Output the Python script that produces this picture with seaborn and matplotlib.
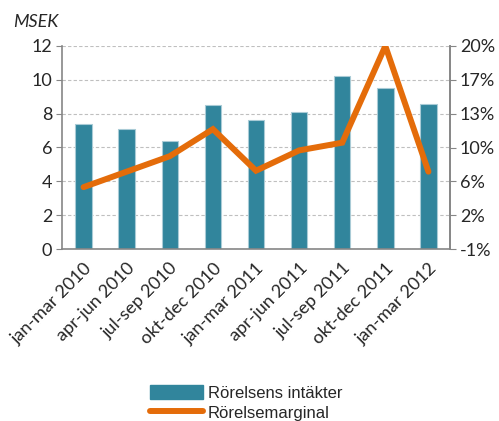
import matplotlib
matplotlib.use("Agg")
import matplotlib.pyplot as plt
from matplotlib.patches import Patch
from matplotlib.lines import Line2D
import seaborn as sns
import pandas as pd

quarters = ["jan-mar 2010", "apr-jun 2010", "jul-sep 2010", "okt-dec 2010",
            "jan-mar 2011", "apr-jun 2011", "jul-sep 2011", "okt-dec 2011",
            "jan-mar 2012"]
revenue_msek = [7.4, 7.1, 6.4, 8.5, 7.6, 8.1, 10.2, 9.5, 8.6]
margin_pct = [5.4, 7.0, 8.6, 11.4, 7.1, 9.2, 10.0, 20.0, 7.0]

left_ticks = [0, 2, 4, 6, 8, 10, 12]
right_ticks = [-1, 2.5, 6, 9.5, 13, 16.5, 20]
right_tick_labels = ["-1%", "2%", "6%", "10%", "13%", "17%", "20%"]

bar_label = "Rörelsens intäkter"
line_label = "Rörelsemarginal"

BAR = "#31859C"
LINE = "#E46C0A"
AXIS = "#868686"

sns.set_style("white")
plt.rcParams["font.family"] = ["Lato", "DejaVu Sans"]

df = pd.DataFrame({"kvartal": quarters, "intakter": revenue_msek, "marginal": margin_pct})

fig = plt.figure(figsize=(4.99, 4.21), dpi=100)
ax = fig.add_axes([62 / 499, 1 - 249 / 421, 388 / 499, 203 / 421])

sns.barplot(data=df, x="kvartal", y="intakter", color=BAR, width=0.38,
            edgecolor="#A9CBD6", linewidth=0.8, saturation=1, ax=ax, zorder=2)
ax.set_xlim(-0.5, len(quarters) - 0.5)
ax.set_ylim(0, 12)
ax.set_yticks(left_ticks)
ax.set_xlabel("")
ax.set_ylabel("")
ax.yaxis.grid(True, color="#BFBFBF", linestyle=(0, (3, 2)), linewidth=0.8)
ax.set_axisbelow(True)
ax.tick_params(axis="y", labelsize=13, length=4, color=AXIS, direction="out", left=True, pad=3)
ax.tick_params(axis="x", length=0, labelsize=13, pad=8)
plt.setp(ax.get_xticklabels(), rotation=45, ha="right", rotation_mode="anchor")
ax.spines["top"].set_visible(False)
for side in ["left", "bottom", "right"]:
    ax.spines[side].set_color(AXIS)
    ax.spines[side].set_linewidth(1.2)

ax2 = ax.twinx()
sns.lineplot(data=df, x="kvartal", y="marginal", color=LINE, linewidth=4.3,
             sort=False, ax=ax2, solid_joinstyle="miter", zorder=3)
ax2.set_ylim(-1, 20)
ax2.set_yticks(right_ticks)
ax2.set_yticklabels(right_tick_labels)
ax2.set_ylabel("")
ax2.set_xlabel("")
ax2.tick_params(axis="y", labelsize=13, length=4, color=AXIS, direction="out", right=True, pad=3)
for side in ["top", "left", "bottom"]:
    ax2.spines[side].set_visible(False)
ax2.spines["right"].set_color(AXIS)
ax2.spines["right"].set_linewidth(1.2)

fig.text(13 / 499, 1 - 22 / 421, "MSEK", fontsize=13, style="italic", va="center", ha="left")

handles = [Patch(facecolor=BAR, edgecolor=BAR),
           Line2D([0], [0], color=LINE, linewidth=4.3, solid_capstyle="round")]
fig.legend(handles, [bar_label, line_label], loc="center",
           bbox_to_anchor=(246 / 499, 1 - 403 / 421), frameon=False,
           handlelength=3.2, handleheight=0.9, labelspacing=0.25,
           handletextpad=0.3, borderaxespad=0,
           prop={"family": ["Liberation Sans", "DejaVu Sans"], "size": 12})

fig.savefig("out.png", dpi=100)
